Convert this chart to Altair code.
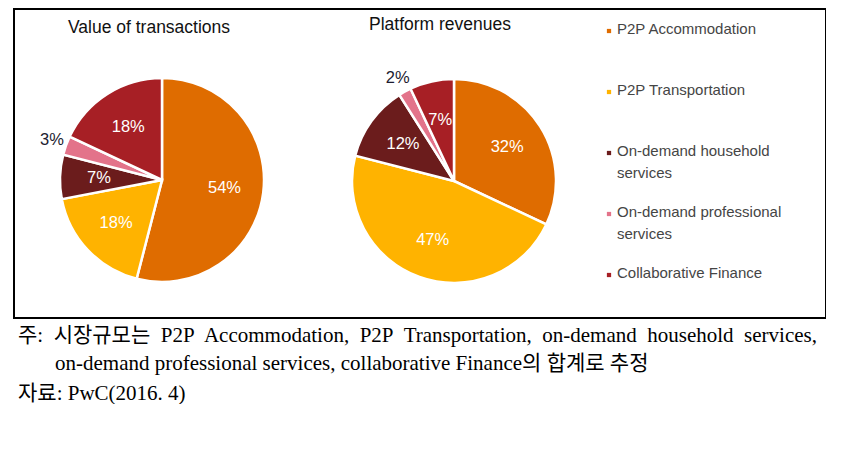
import altair as alt
import pandas as pd

# ---- data ----
categories = [
    "P2P Accommodation",
    "P2P Transportation",
    "On-demand household services",
    "On-demand professional services",
    "Collaborative Finance",
]
legend_labels = [
    "P2P Accommodation",
    "P2P Transportation",
    "On-demand household\nservices",
    "On-demand professional\nservices",
    "Collaborative Finance",
]
colors = ["#DF6C00", "#FFB300", "#6B1C1C", "#E3738A", "#A71F25"]
transactions = [54, 18, 7, 3, 18]
revenues = [32, 47, 12, 2, 7]
titles = ["Value of transactions", "Platform revenues"]
note_lines = [
    "주:\u00a0 시장규모는\u00a0 P2P\u00a0 Accommodation,\u00a0 P2P\u00a0 Transportation,\u00a0 on-demand\u00a0 household\u00a0 services,",
    "on-demand professional services, collaborative Finance의 합계로 추정",
    "자료: PwC(2016. 4)",
]

rows = []
for name, vals in zip(titles, [transactions, revenues]):
    for i, (c, v) in enumerate(zip(categories, vals)):
        rows.append({"chart": name, "category": c, "value": v, "idx": i})
df = pd.DataFrame(rows)

color_scale = alt.Scale(domain=categories, range=colors)
R = 102
SANS = "Liberation Sans, Arial, sans-serif"
SERIF = "Liberation Serif, Noto Sans CJK KR, serif"


def pie(name, cx, cy):
    base = alt.Chart(df).transform_filter(alt.datum.chart == name)
    arcs = base.mark_arc(outerRadius=R, stroke="white", strokeWidth=2.5).encode(
        theta=alt.Theta("value:Q", stack=True),
        color=alt.Color("category:N", scale=color_scale, legend=None),
        order=alt.Order("idx:Q"),
        x=alt.value(cx),
        y=alt.value(cy),
    )
    labels = (
        base.transform_joinaggregate(total="sum(value)")
        .transform_window(cum="sum(value)", sort=[alt.SortField("idx")], frame=[None, 0])
        .transform_calculate(
            mid="(datum.cum - datum.value / 2) / datum.total",
            label="datum.value + '%'",
            lr="datum.value < 5 ? 1 : 0",
        )
        .mark_text(font=SANS, fontSize=16.5)
        .encode(
            theta=alt.Theta("mid:Q", scale=alt.Scale(domain=[0, 1]), stack=None),
            radius=alt.Radius(
                "lr:Q",
                scale=alt.Scale(type="linear", domain=[0, 1], range=[63, 117], zero=False),
            ),
            text="label:N",
            color=alt.condition("datum.value < 5", alt.value("#1C1C30"), alt.value("white")),
            x=alt.value(cx),
            y=alt.value(cy),
        )
    )
    return arcs, labels


a1, l1 = pie(titles[0], 148, 171)
a2, l2 = pie(titles[1], 440, 172)


def text_line(t, x, y, **kw):
    return (
        alt.Chart(pd.DataFrame({"t": [t]}))
        .mark_text(**kw)
        .encode(text="t:N", x=alt.value(x), y=alt.value(y))
    )


title1 = text_line(titles[0], 135, 19, font=SANS, fontSize=17.5, color="#111111")
title2 = text_line(titles[1], 426, 16, font=SANS, fontSize=17.5, color="#111111")

leg_df = pd.DataFrame({"category": categories, "label": legend_labels})
leg_y = alt.Y(
    "category:N",
    sort=categories,
    scale=alt.Scale(type="point", domain=categories, range=[22, 266], padding=0),
    axis=None,
)
leg_sq = alt.Chart(leg_df).mark_square(size=18, opacity=1).encode(
    y=leg_y,
    x=alt.value(595),
    color=alt.Color("category:N", scale=color_scale, legend=None),
)
leg_tx = alt.Chart(leg_df).mark_text(
    align="left", baseline="top", dy=-9, font=SANS, fontSize=15,
    lineHeight=22, lineBreak="\n", color="#454545",
).encode(y=leg_y, x=alt.value(603), text="label:N")

n1 = text_line(note_lines[0], 4, 327, font=SERIF, fontSize=21, align="left", color="#000")
n2 = text_line(note_lines[1], 41, 355, font=SERIF, fontSize=21, align="left", color="#000")
n3 = text_line(note_lines[2], 4, 385, font=SERIF, fontSize=21, align="left", color="#000")

chart = (
    alt.layer(a1, l1, a2, l2, title1, title2, leg_sq, leg_tx, n1, n2, n3)
    .resolve_scale(theta="independent", radius="independent")
    .properties(
        width=812,
        height=309,
        padding={"left": 6, "top": 1, "right": 0, "bottom": 0},
    )
    .configure_view(stroke="#000000", strokeWidth=2)
)

chart.save("out.html", embed_options={"renderer": "svg", "actions": False})
